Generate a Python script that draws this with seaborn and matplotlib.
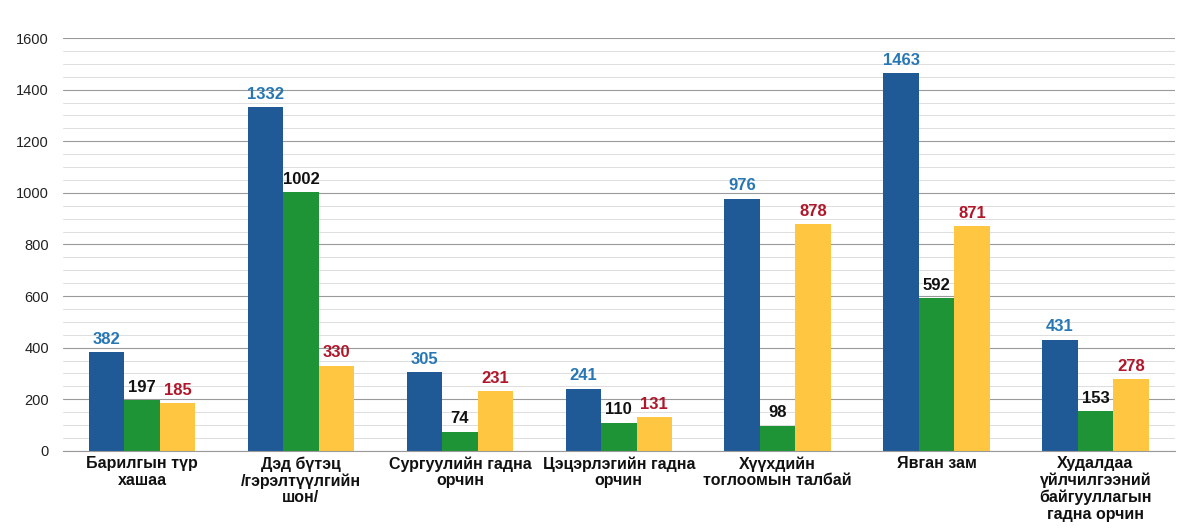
import matplotlib
matplotlib.use("Agg")
import matplotlib.pyplot as plt
import seaborn as sns
import pandas as pd
from matplotlib.ticker import MultipleLocator

# categories (x axis)
categories = [
    "Барилгын түр\nхашаа",
    "Дэд бүтэц\n/гэрэлтүүлгийн\nшон/",
    "Сургуулийн гадна\nорчин",
    "Цэцэрлэгийн гадна\nорчин",
    "Хүүхдийн\nтоглоомын талбай",
    "Явган зам",
    "Худалдаа\nүйлчилгээний\nбайгууллагын\nгадна орчин",
]

# three series
series_names = ["s1", "s2", "s3"]
values_blue = [382, 1332, 305, 241, 976, 1463, 431]
values_green = [197, 1002, 74, 110, 98, 592, 153]
values_yellow = [185, 330, 231, 131, 878, 871, 278]

bar_colors = ["#1F5A96", "#1E9437", "#FFC641"]
label_colors = ["#2777B5", "#111111", "#B0172B"]

# long table for seaborn
rows = []
for name, vals in zip(series_names, [values_blue, values_green, values_yellow]):
    for cat, v in zip(categories, vals):
        rows.append({"cat": cat, "series": name, "value": v})
df = pd.DataFrame(rows)

sns.set_theme(style="white")
plt.rcParams["font.family"] = ["Liberation Sans", "DejaVu Sans"]

fig = plt.figure(figsize=(11.82, 5.28), dpi=100)
ax = fig.add_axes([0.053, 0.146, 0.941, 0.782])

sns.barplot(data=df, x="cat", y="value", hue="series", palette=bar_colors,
            width=0.67, saturation=1, gap=0, legend=False, linewidth=0, ax=ax)

# value labels above each bar
for cont, col in zip(ax.containers, label_colors):
    ax.bar_label(cont, padding=4, color=col, fontsize=12, fontweight="bold")

ax.set_ylim(0, 1600)
ax.yaxis.set_major_locator(MultipleLocator(200))
ax.yaxis.set_minor_locator(MultipleLocator(50))
ax.grid(axis="y", which="major", color="#9a9a9a", linewidth=0.8)
ax.grid(axis="y", which="minor", color="#d8d8d8", linewidth=0.6)
ax.set_axisbelow(True)

for s in ["top", "right", "left"]:
    ax.spines[s].set_visible(False)
ax.spines["bottom"].set_color("#9a9a9a")
ax.spines["bottom"].set_linewidth(0.8)

ax.set_xlabel("")
ax.set_ylabel("")
ax.tick_params(axis="y", which="both", length=0, labelsize=10.5, colors="#222222", pad=10)
ax.tick_params(axis="x", length=0, pad=4)
for lbl in ax.get_xticklabels():
    lbl.set_fontsize(11.5)
    lbl.set_fontweight("bold")
    lbl.set_color("#111111")
    lbl.set_linespacing(1.12)

fig.savefig("out.png", dpi=100)
